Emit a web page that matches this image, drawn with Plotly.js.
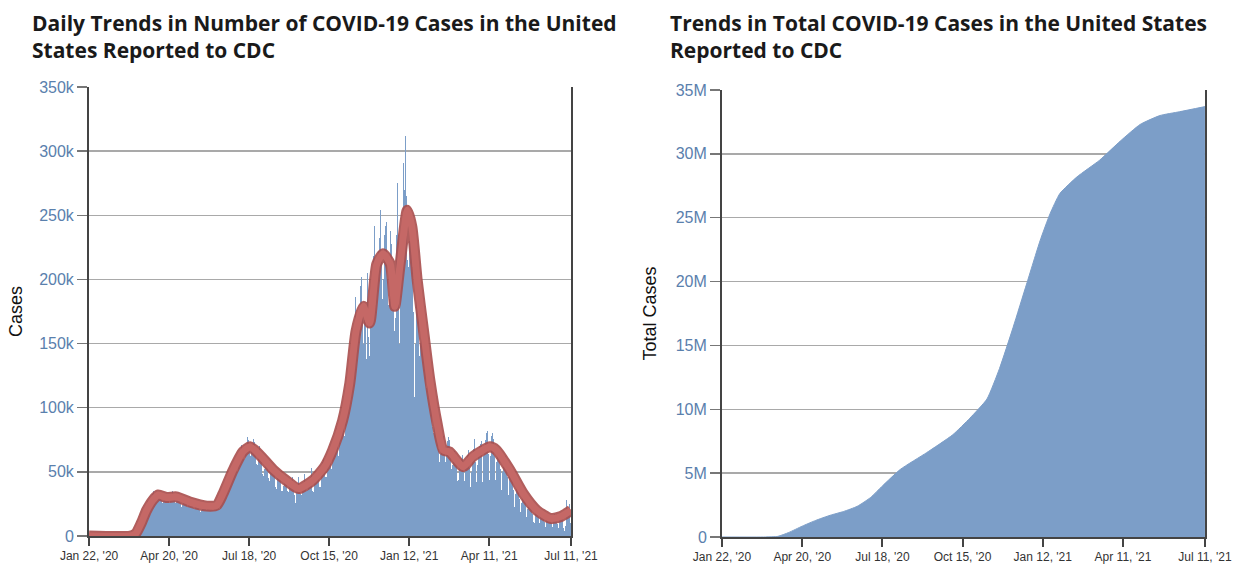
<!DOCTYPE html>
<html>
<head>
<meta charset="utf-8">
<script src="https://cdn.plot.ly/plotly-3.0.1.min.js"></script>
<style>html,body{margin:0;padding:0;background:#fff;}#chart{width:1237px;height:570px;}</style>
</head>
<body>
<div id="chart"></div>
<script>
// ---- Data (daily cases in thousands, one row per week starting Wed Jan 22, 2020) ----
const firstDay = '2020-01-22';
const dailyCasesK = [
  0,0,0,0,0,0,0,
  0,0,0,0,0,0,0,
  0,0,0,0,0,0,0,
  0,0,0,0,0,0,0,
  0,0,0,0,0,0,0,
  0,0,0,0,0,0,0.02,
  0.03,0.05,0.08,0.1,0.12,0.2,0.3,
  0.5,0.8,1.2,1.8,2.5,4,5.5,
  7,9,12,15,17,19,21,
  23,25,27,28,26,27,29,
  31,33,35,33,29,28,31,
  33,34,33,31,28,26,27,
  30,31,33,32,27,26,28,
  30,33,35,33,28,26,27,
  29,31,33,29,26,23,24,
  27,29,29,27,23,22,24,
  25,28,27,26,22,21,23,
  24,26,25,24,20,19,20,
  21,24,25,24,21,20,22,
  23,25,26,24,20,20,22,
  23,25,27,26,22,21,25,
  28,31,35,34,30,32,35,
  40,44,48,46,42,44,47,
  55,58,60,54,50,56,62,
  63,66,71,68,60,60,66,
  70,77,75,70,64,62,66,
  72,76,73,66,56,55,60,
  68,70,65,58,48,47,52,
  55,58,60,55,45,43,50,
  52,54,52,48,38,37,43,
  46,47,48,44,35,35,39,
  44,46,48,44,35,34,40,
  40,44,46,41,32,26,26,
  34,37,46,40,33,32,37,
  40,44,48,42,35,36,42,
  43,46,53,45,35,34,41,
  44,47,50,48,38,38,43,
  53,58,60,55,46,46,54,
  62,68,72,60,52,62,68,
  65,76,84,80,62,68,74,
  80,92,100,87,78,90,95,
  108,120,128,122,106,118,130,
  145,160,186,170,140,155,168,
  178,195,202,180,150,168,180,
  182,138,205,155,140,165,185,
  200,218,242,212,180,195,215,
  222,232,254,218,185,200,212,
  235,242,245,200,180,185,238,
  228,180,116,190,160,170,235,
  275,235,150,230,200,195,235,
  291,270,312,265,215,210,230,
  250,250,245,210,175,108,150,
  200,200,195,175,140,150,160,
  160,170,165,140,115,125,125,
  122,125,130,100,85,80,92,
  98,103,102,87,68,58,64,
  66,72,78,70,58,55,68,
  74,77,75,62,52,55,58,
  66,67,65,56,43,44,54,
  58,60,63,50,37,43,54,
  60,63,67,53,38,50,58,
  66,68,76,58,42,55,62,
  70,72,74,60,42,62,68,
  75,80,82,64,44,62,70,
  78,80,76,62,44,58,66,
  66,68,64,52,36,50,54,
  60,62,58,46,32,46,48,
  50,48,46,36,23,33,37,
  40,42,40,29,19,26,30,
  33,33,31,23,15,21,23,
  27,26,23,17,11,10,14,
  22,21,21,15,10,15,17,
  17,16,17,11,7,13,13,
  15,16,14,10,7,15,15,
  17,16,17,9,6,16,17,
  17,18,14,6,4,8,28,
  22,20,25,10,7
];

// 7-day average (thousands)
const avgDates = ['2020-01-22','2020-03-08','2020-03-14','2020-03-20','2020-03-26','2020-04-02','2020-04-08','2020-04-17','2020-04-28','2020-05-13','2020-06-01','2020-06-12','2020-06-19','2020-06-30','2020-07-11','2020-07-19','2020-07-30','2020-08-14','2020-08-28','2020-09-11','2020-09-27','2020-10-10','2020-10-19','2020-10-30','2020-11-07','2020-11-14','2020-11-22','2020-11-29','2020-12-07','2020-12-14','2020-12-22','2020-12-27','2021-01-02','2021-01-10','2021-01-15','2021-01-21','2021-01-28','2021-02-04','2021-02-12','2021-02-19','2021-02-26','2021-03-13','2021-03-24','2021-04-12','2021-04-19','2021-05-04','2021-05-19','2021-06-03','2021-06-18','2021-06-29','2021-07-11'];
const avgValuesK = [0,0,2,10,20,28,32,30,30.5,26.5,23.3,24,33,51,65.5,69.5,63,51.5,43.5,37,43.5,54,67,90,119,160,179,166,212,220,212,179,212,254,241,199,160,121.5,88,67,65.5,54,62,69.5,67,51.5,33,20,13.8,15,20];

// Cumulative total cases (millions)
const cumDates = ['2020-01-22','2020-03-10','2020-03-24','2020-04-05','2020-04-20','2020-05-05','2020-05-21','2020-06-05','2020-06-20','2020-07-05','2020-07-18','2020-08-07','2020-09-05','2020-10-04','2020-10-23','2020-11-11','2020-11-25','2020-12-10','2020-12-25','2021-01-09','2021-01-20','2021-01-31','2021-02-19','2021-03-16','2021-04-08','2021-04-30','2021-05-22','2021-06-13','2021-07-11'];
const cumValuesM = [0,0,0.05,0.35,0.85,1.3,1.7,2.0,2.4,3.1,4.0,5.3,6.6,8.0,9.3,10.8,13.2,16.4,19.8,23.2,25.3,26.9,28.2,29.5,31.0,32.3,33.0,33.3,33.7];

// Axis ticks
const xTickVals = ['2020-01-22','2020-04-20','2020-07-18','2020-10-15','2021-01-12','2021-04-11','2021-07-11'];
const xTickText = ["Jan 22, '20","Apr 20, '20","Jul 18, '20","Oct 15, '20","Jan 12, '21","Apr 11, '21","Jul 11, '21"];
const yTickValsK = [0,50,100,150,200,250,300,350];
const yTickTextK = ['0','50k','100k','150k','200k','250k','300k','350k'];
const yTickValsM = [0,5,10,15,20,25,30,35];
const yTickTextM = ['0','5M','10M','15M','20M','25M','30M','35M'];

// ---- Build dates for daily bars ----
const dailyDates = [];
{
  const d0 = new Date(firstDay + 'T00:00:00Z');
  for (let i = 0; i < dailyCasesK.length; i++) {
    const d = new Date(d0.getTime() + i * 86400000);
    dailyDates.push(d.toISOString().slice(0, 10));
  }
}

const BLUE = '#7c9ec8';
const traces = [
  {type:'bar', x:dailyDates, y:dailyCasesK, xaxis:'x', yaxis:'y',
   marker:{color:BLUE, line:{width:0}}, hoverinfo:'skip'},
  {type:'scatter', mode:'lines', x:avgDates, y:avgValuesK, xaxis:'x', yaxis:'y',
   line:{color:'#a94c4b', width:11, shape:'spline', smoothing:0.6}, opacity:0.9, hoverinfo:'skip'},
  {type:'scatter', mode:'lines', x:avgDates, y:avgValuesK, xaxis:'x', yaxis:'y',
   line:{color:'#c56866', width:7, shape:'spline', smoothing:0.6}, hoverinfo:'skip'},
  {type:'scatter', mode:'lines', x:cumDates, y:cumValuesM, xaxis:'x2', yaxis:'y2',
   fill:'tozeroy', fillcolor:BLUE, line:{color:BLUE, width:1, shape:'spline', smoothing:0.5}, hoverinfo:'skip'}
];

const axisFont = {family:'Liberation Sans, Arial, sans-serif', size:16, color:'#5a80ad'};
const xFont = {family:'Liberation Sans, Arial, sans-serif', size:12, color:'#333'};
const commonX = {type:'date', tickmode:'array', tickvals:xTickVals, ticktext:xTickText,
  ticks:'outside', ticklen:8, tickwidth:2, tickcolor:'#444', showline:true, linecolor:'#444', linewidth:2,
  showgrid:false, zeroline:false, tickfont:xFont, range:['2020-01-22','2021-07-11'], fixedrange:true};
const commonY = {tickmode:'array', ticks:'outside', ticklen:10, tickwidth:1.5, tickcolor:'#777',
  showline:true, linecolor:'#444', linewidth:2, mirror:true, showgrid:true, gridcolor:'#a9a9a9', gridwidth:1.5,
  zeroline:false, tickfont:axisFont, fixedrange:true};

const layout = {
  width:1237, height:570, margin:{l:0,r:0,t:0,b:0},
  paper_bgcolor:'#fff', plot_bgcolor:'#fff', showlegend:false, bargap:0,
  xaxis: Object.assign({}, commonX, {domain:[0.0720,0.4616], anchor:'y'}),
  yaxis: Object.assign({}, commonY, {domain:[0.0596,0.8474], anchor:'x', range:[0,350],
    tickvals:yTickValsK, ticktext:yTickTextK,
    title:{text:'Cases', font:{family:'Liberation Sans, Arial, sans-serif', size:18, color:'#111'}, standoff:12}}),
  xaxis2: Object.assign({}, commonX, {domain:[0.5837,0.9741], anchor:'y2'}),
  yaxis2: Object.assign({}, commonY, {domain:[0.0579,0.8421], anchor:'x2', range:[0,35],
    tickvals:yTickValsM, ticktext:yTickTextM,
    title:{text:'Total Cases', font:{family:'Liberation Sans, Arial, sans-serif', size:18, color:'#111'}, standoff:14}}),
  annotations:[
    {xref:'paper', yref:'paper', x:30/1237, y:1-7/570, xanchor:'left', yanchor:'top', align:'left', showarrow:false,
     text:'<b>Daily Trends in Number of COVID-19 Cases in the United<br>States Reported to CDC</b>',
     font:{family:'Open Sans, Noto Sans, sans-serif', size:21, color:'#1a1a1a'}},
    {xref:'paper', yref:'paper', x:668/1237, y:1-7/570, xanchor:'left', yanchor:'top', align:'left', showarrow:false,
     text:'<b>Trends in Total COVID-19 Cases in the United States<br>Reported to CDC</b>',
     font:{family:'Open Sans, Noto Sans, sans-serif', size:21, color:'#1a1a1a'}}
  ]
};

Plotly.newPlot('chart', traces, layout, {displayModeBar:false, staticPlot:true});
</script>
</body>
</html>
